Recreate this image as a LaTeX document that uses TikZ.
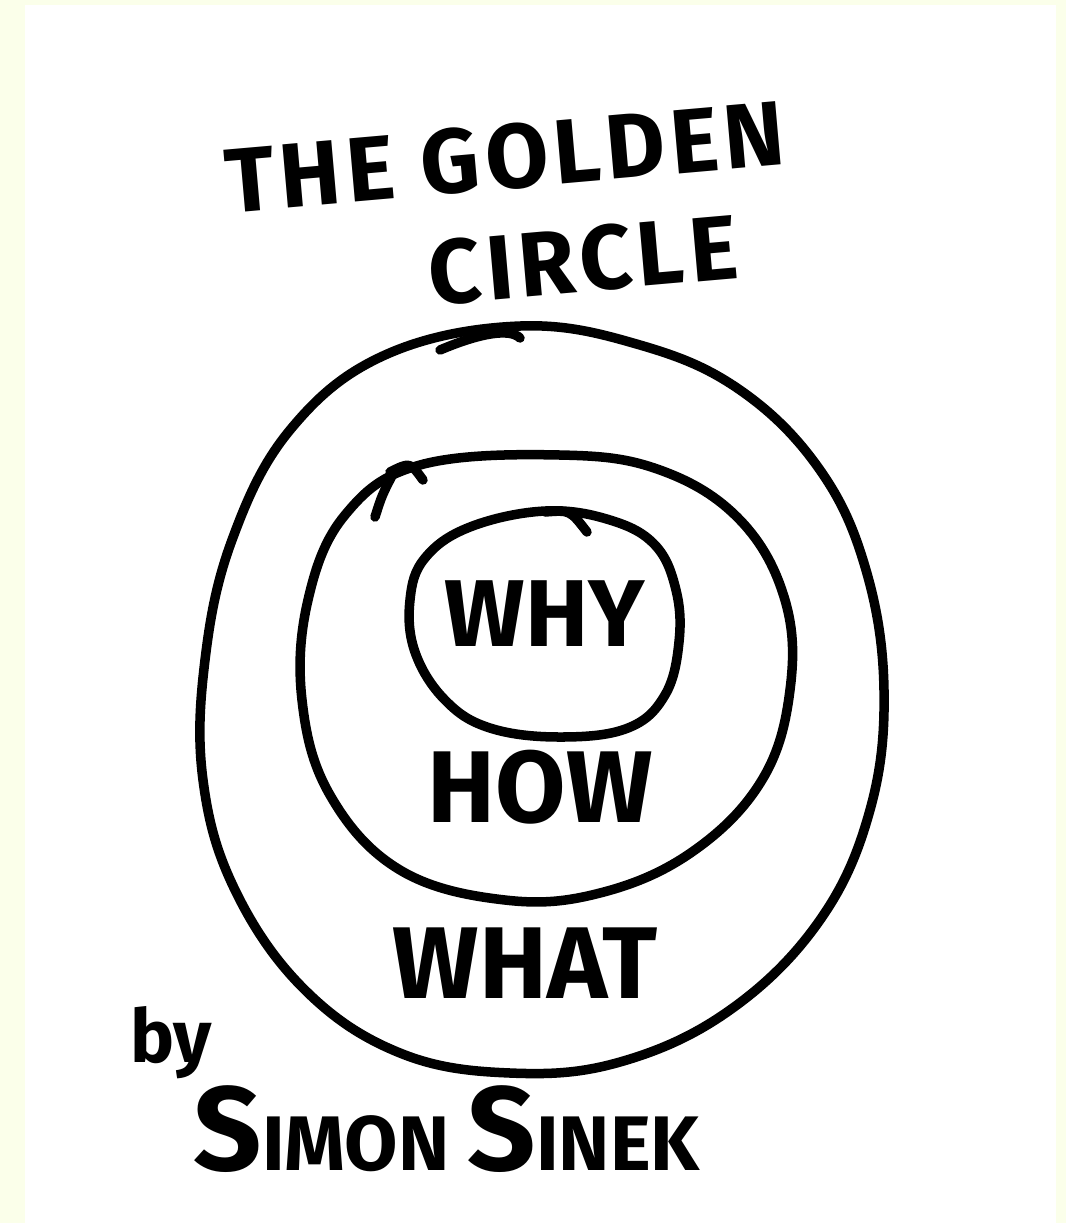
\documentclass[tikz,border=0pt]{standalone}
\usepackage{fontspec}
\setmainfont{Fira Sans}
\definecolor{paper}{RGB}{251,255,234}
\begin{document}
\begin{tikzpicture}[x=0.01cm,y=-0.01cm,
  ring/.style={draw=black, line width=0.095cm, line cap=round, line join=round},
  lbl/.style={font=\fontsize{29}{30}\selectfont\bfseries, inner sep=0pt, text=black},
  ttl/.style={font=\fontsize{26}{27}\selectfont\bfseries\addfontfeature{LetterSpace=6}, inner sep=0pt, text=black}]
\useasboundingbox (0,0) rectangle (1066,1223);
\fill[paper] (0,0) rectangle (1066,1223);
\fill[white] (25,5) rectangle (1056,1223);

% outer ring
\draw[ring] plot[smooth cycle, tension=0.65] coordinates {
 (520,326) (640,345) (740,390) (820,470) (866,570) (884,690) (870,810)
 (820,920) (730,1010) (620,1062) (510,1073) (400,1053) (305,990)
 (235,890) (203,780) (205,660) (232,540) (290,430) (385,355)};
\draw[ring] (440,350) .. controls (480,333) and (510,328) .. (520,338);

% middle ring
\draw[ring] plot[smooth cycle, tension=0.65] coordinates {
 (560,455) (660,470) (740,520) (785,600) (790,690) (762,780) (692,852)
 (600,893) (505,900) (400,870) (330,795) (302,700) (308,600) (345,515) (420,465)};
\draw[ring] (375,517) .. controls (382,495) .. (395,470);
\draw[ring] (390,472) .. controls (410,462) .. (423,480);

% inner ring
\draw[ring] plot[smooth cycle, tension=0.65] coordinates {
 (545,511) (610,520) (655,545) (676,590) (679,642) (665,695) (628,728)
 (560,737) (490,728) (445,700) (415,652) (410,600) (425,558) (470,527)};
\draw[ring] (545,512) .. controls (570,510) .. (587,532);

% texts
\node[ttl, rotate=5] (t1) at (505,157) {THE GOLDEN};
\node[ttl, rotate=5] (t2) at (583,260) {CIRCLE};
\node[lbl, font=\fontsize{27}{28}\selectfont\bfseries] (why) at (545,614) {WHY};
\node[lbl] (how) at (540,787) {HOW};
\node[lbl] (what) at (525,963) {WHAT};
\node[font=\fontsize{21}{22}\selectfont\bfseries, inner sep=0pt] (by) at (171,1043) {by};
\node[font=\fontsize{22}{24}\selectfont\bfseries, inner sep=0pt, anchor=base west] (author) at (193,1170)
  {{\fontsize{34}{34}\selectfont S}IMON {\fontsize{34}{34}\selectfont S}INEK};
\end{tikzpicture}
\end{document}
